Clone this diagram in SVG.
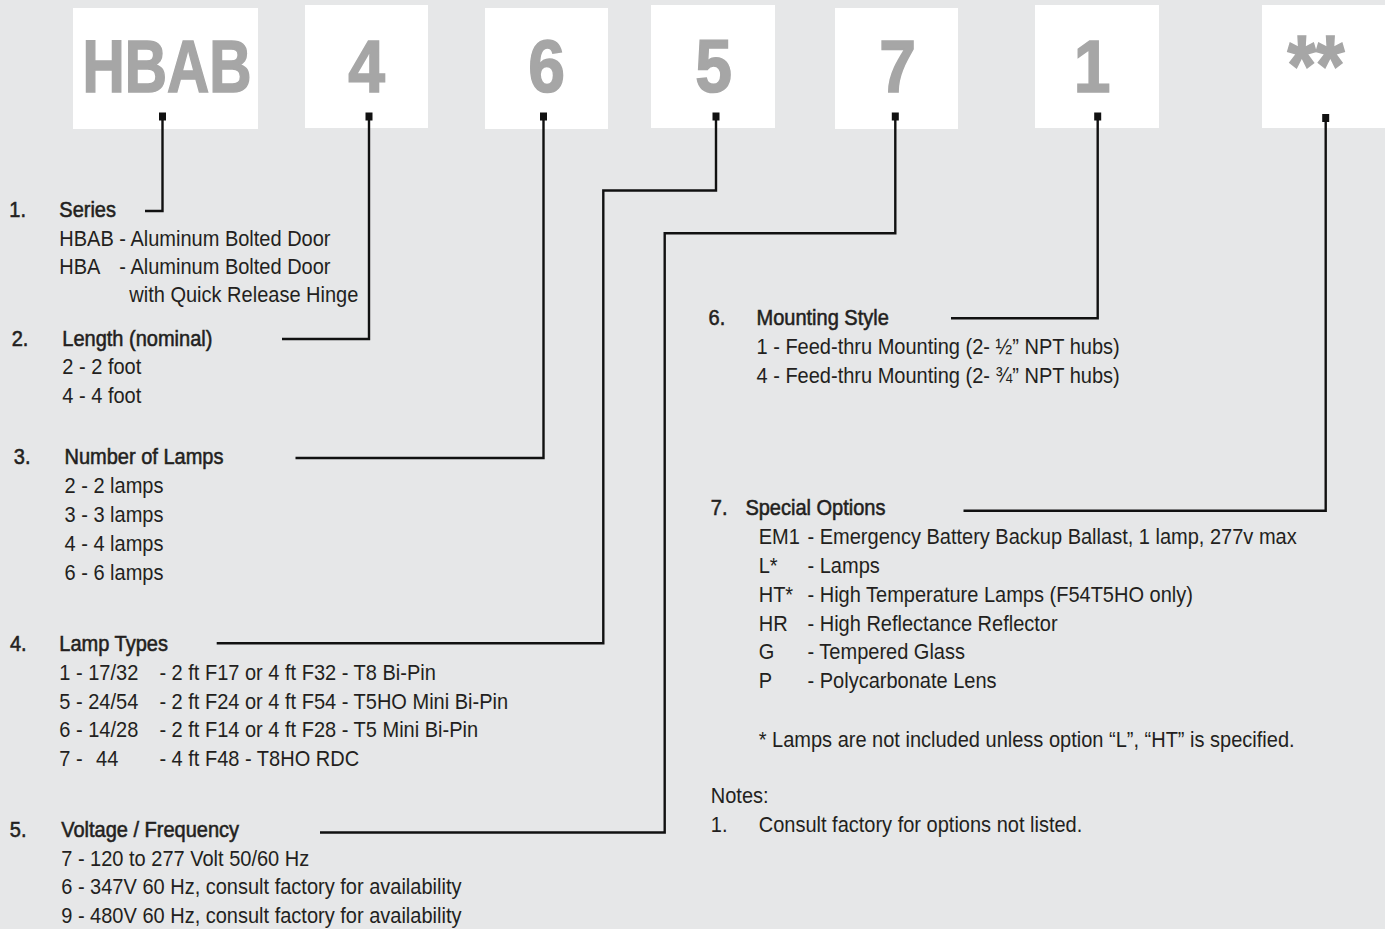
<svg xmlns="http://www.w3.org/2000/svg" width="1385" height="929" viewBox="0 0 1385 929">
<style>
.bg{fill:#e6e7e8}
.box{fill:#ffffff}
.big{font-family:"Liberation Sans",Arial,sans-serif;font-weight:bold;font-size:75px;fill:#a6a6a6;stroke:#a6a6a6;stroke-width:1.6;text-anchor:middle}
.t{font-family:"Liberation Sans",Arial,sans-serif;font-size:22px;fill:#231f20}
.h{stroke:#231f20;stroke-width:0.55}
.c{fill:none;stroke:#111;stroke-width:2.4;stroke-linejoin:miter}
.sq{fill:#111}
</style>
<rect class="bg" x="0" y="0" width="1385" height="929"/>

<g id="code-boxes">
  <g id="box-hbab"><rect class="box" x="73" y="8" width="185" height="121"/><text class="big" transform="translate(167 92) scale(0.78 1)">HBAB</text></g>
  <g id="box-4"><rect class="box" x="305" y="5" width="123" height="123"/><text class="big" transform="translate(366.5 92) scale(0.88 1)">4</text></g>
  <g id="box-6"><rect class="box" x="485" y="8" width="123" height="121"/><text class="big" transform="translate(546.5 92) scale(0.88 1)">6</text></g>
  <g id="box-5"><rect class="box" x="651" y="5" width="124" height="123"/><text class="big" transform="translate(713.5 92) scale(0.88 1)">5</text></g>
  <g id="box-7"><rect class="box" x="835" y="8" width="123" height="121"/><text class="big" transform="translate(897.5 92) scale(0.88 1)">7</text></g>
  <g id="box-1"><rect class="box" x="1035" y="5" width="124" height="123"/><text class="big" transform="translate(1092 92) scale(0.88 1)">1</text></g>
  <g id="box-star"><rect class="box" x="1262" y="5" width="123" height="123"/><text class="big" style="font-size:85px" transform="translate(1316 95) scale(0.86 1)">**</text></g>
</g>

<g id="connectors">
  <path class="c" d="M162.5 118 V211 H145"/>
  <path class="c" d="M369 118 V339 H282"/>
  <path class="c" d="M543.5 118 V458 H295.5"/>
  <path class="c" d="M716 118 V190.5 H603.3 V643.3 H216.7"/>
  <path class="c" d="M895.3 118 V233.3 H664.7 V832.5 H320"/>
  <path class="c" d="M1097.7 118 V318.3 H951"/>
  <path class="c" d="M1325.7 118 V510.7 H963.5"/>
  <rect class="sq" x="159" y="112.5" width="7" height="8"/>
  <rect class="sq" x="365.5" y="112.5" width="7" height="8"/>
  <rect class="sq" x="540" y="112.5" width="7" height="8"/>
  <rect class="sq" x="712.5" y="112.5" width="7" height="8"/>
  <rect class="sq" x="891.8" y="112.5" width="7" height="8"/>
  <rect class="sq" x="1094.2" y="112.5" width="7" height="8"/>
  <rect class="sq" x="1322.2" y="114" width="7" height="8"/>
</g>

<g id="node-series">
  <text class="t h" transform="translate(9.3 217) scale(0.91 1)">1.</text>
  <text class="t h" transform="translate(59.3 217) scale(0.91 1)">Series</text>
  <text class="t" transform="translate(59.3 245.7) scale(0.91 1)">HBAB</text>
  <text class="t" transform="translate(119.3 245.7) scale(0.91 1)">- Aluminum Bolted Door</text>
  <text class="t" transform="translate(59.3 274) scale(0.91 1)">HBA</text>
  <text class="t" transform="translate(119.3 274) scale(0.91 1)">- Aluminum Bolted Door</text>
  <text class="t" transform="translate(129.3 302.3) scale(0.91 1)">with Quick Release Hinge</text>
</g>

<g id="node-length">
  <text class="t h" transform="translate(11.7 345.7) scale(0.91 1)">2.</text>
  <text class="t h" transform="translate(62.3 345.7) scale(0.91 1)">Length (nominal)</text>
  <text class="t" transform="translate(62.3 374.3) scale(0.91 1)">2 - 2 foot</text>
  <text class="t" transform="translate(62.3 402.7) scale(0.91 1)">4 - 4 foot</text>
</g>

<g id="node-lamps">
  <text class="t h" transform="translate(13.8 464.3) scale(0.91 1)">3.</text>
  <text class="t h" transform="translate(64.5 464.3) scale(0.91 1)">Number of Lamps</text>
  <text class="t" transform="translate(64.5 493.3) scale(0.91 1)">2 - 2 lamps</text>
  <text class="t" transform="translate(64.5 522.3) scale(0.91 1)">3 - 3 lamps</text>
  <text class="t" transform="translate(64.5 551.3) scale(0.91 1)">4 - 4 lamps</text>
  <text class="t" transform="translate(64.5 580) scale(0.91 1)">6 - 6 lamps</text>
</g>

<g id="node-lamp-types">
  <text class="t h" transform="translate(9.9 651) scale(0.91 1)">4.</text>
  <text class="t h" transform="translate(59.3 651) scale(0.91 1)">Lamp Types</text>
  <text class="t" transform="translate(59.3 680) scale(0.91 1)">1 - 17/32</text>
  <text class="t" transform="translate(159.4 680) scale(0.91 1)">- 2 ft F17 or 4 ft F32 - T8 Bi-Pin</text>
  <text class="t" transform="translate(59.3 708.5) scale(0.91 1)">5 - 24/54</text>
  <text class="t" transform="translate(159.4 708.5) scale(0.91 1)">- 2 ft F24 or 4 ft F54 - T5HO Mini Bi-Pin</text>
  <text class="t" transform="translate(59.3 737) scale(0.91 1)">6 - 14/28</text>
  <text class="t" transform="translate(159.4 737) scale(0.91 1)">- 2 ft F14 or 4 ft F28 - T5 Mini Bi-Pin</text>
  <text class="t" transform="translate(59.3 765.7) scale(0.91 1)">7 -</text>
  <text class="t" transform="translate(96.1 765.7) scale(0.91 1)">44</text>
  <text class="t" transform="translate(159.4 765.7) scale(0.91 1)">- 4 ft F48 - T8HO RDC</text>
</g>

<g id="node-voltage">
  <text class="t h" transform="translate(9.8 836.7) scale(0.91 1)">5.</text>
  <text class="t h" transform="translate(61.2 836.7) scale(0.91 1)">Voltage / Frequency</text>
  <text class="t" transform="translate(61.2 866) scale(0.91 1)">7 - 120 to 277 Volt 50/60 Hz</text>
  <text class="t" transform="translate(61.2 894.3) scale(0.91 1)">6 - 347V 60 Hz, consult factory for availability</text>
  <text class="t" transform="translate(61.2 922.5) scale(0.91 1)">9 - 480V 60 Hz, consult factory for availability</text>
</g>

<g id="node-mounting">
  <text class="t h" transform="translate(708.6 325) scale(0.91 1)">6.</text>
  <text class="t h" transform="translate(756.5 325) scale(0.91 1)">Mounting Style</text>
  <text class="t" transform="translate(756.5 354.3) scale(0.91 1)">1 - Feed-thru Mounting (2- ½” NPT hubs)</text>
  <text class="t" transform="translate(756.5 382.7) scale(0.91 1)">4 - Feed-thru Mounting (2- ¾” NPT hubs)</text>
</g>

<g id="node-options">
  <text class="t h" transform="translate(710.8 515) scale(0.91 1)">7.</text>
  <text class="t h" transform="translate(745.4 515) scale(0.91 1)">Special Options</text>
  <text class="t" transform="translate(758.7 544) scale(0.91 1)">EM1</text>
  <text class="t" transform="translate(807.5 544) scale(0.91 1)">- Emergency Battery Backup Ballast, 1 lamp, 277v max</text>
  <text class="t" transform="translate(758.7 573) scale(0.91 1)">L*</text>
  <text class="t" transform="translate(807.5 573) scale(0.91 1)">- Lamps</text>
  <text class="t" transform="translate(758.7 601.7) scale(0.91 1)">HT*</text>
  <text class="t" transform="translate(807.5 601.7) scale(0.91 1)">- High Temperature Lamps (F54T5HO only)</text>
  <text class="t" transform="translate(758.7 630.5) scale(0.91 1)">HR</text>
  <text class="t" transform="translate(807.5 630.5) scale(0.91 1)">- High Reflectance Reflector</text>
  <text class="t" transform="translate(758.7 659.3) scale(0.91 1)">G</text>
  <text class="t" transform="translate(807.5 659.3) scale(0.91 1)">- Tempered Glass</text>
  <text class="t" transform="translate(758.7 688.3) scale(0.91 1)">P</text>
  <text class="t" transform="translate(807.5 688.3) scale(0.91 1)">- Polycarbonate Lens</text>
  <text class="t" transform="translate(758.7 746.7) scale(0.91 1)">* Lamps are not included unless option “L”, “HT” is specified.</text>
</g>

<g id="notes">
  <text class="t" transform="translate(710.8 802.7) scale(0.91 1)">Notes:</text>
  <text class="t" transform="translate(710.8 831.7) scale(0.91 1)">1.</text>
  <text class="t" transform="translate(758.7 831.7) scale(0.91 1)">Consult factory for options not listed.</text>
</g>
</svg>
